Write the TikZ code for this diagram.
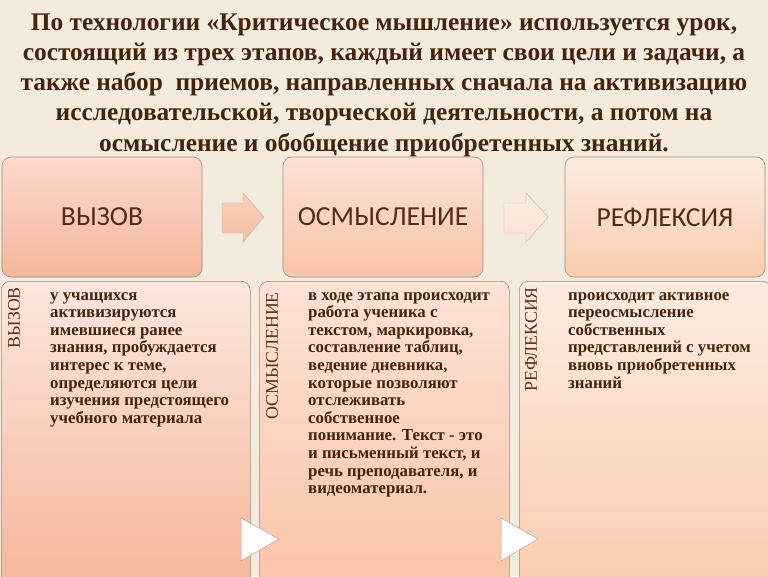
\documentclass[tikz,border=0pt]{standalone}
\usepackage{fontspec}
\setmainfont{Liberation Serif}
\newfontfamily\capfont{Carlito}
\usetikzlibrary{positioning}
\definecolor{paper}{RGB}{242, 235, 222}
\definecolor{ink}{RGB}{68, 36, 12}
\definecolor{labelink}{RGB}{92, 52, 24}
\definecolor{capink}{RGB}{84, 44, 24}
\definecolor{edge}{RGB}{160, 140, 125}
\definecolor{salmonA}{RGB}{252, 218, 206}
\definecolor{salmonB}{RGB}{245, 182, 156}
\definecolor{peachA}{RGB}{253, 226, 214}
\definecolor{peachB}{RGB}{249, 196, 168}
\definecolor{pinkA}{RGB}{251, 230, 222}
\definecolor{pinkB}{RGB}{246, 182, 154}
\definecolor{creamA}{RGB}{252, 236, 226}
\definecolor{creamB}{RGB}{250, 204, 176}

\tikzset{
  stage/.style={draw=edge, line width=0.6, rounded corners=9pt,
    minimum width=200, minimum height=120, inner sep=0,
    font=\capfont\fontsize{27.5}{30}\selectfont, text=capink},
  card/.style={draw=edge, line width=0.6, rounded corners=9pt,
    minimum height=310, inner sep=0, anchor=north west},
  side/.style={rotate=90, anchor=east, inner sep=0,
    font=\fontsize{17.8}{19}\selectfont, text=labelink},
  body/.style={anchor=north west, inner sep=0, align=left,
    font=\bfseries\fontsize{16.8}{17.6}\selectfont, text=ink},
  blockarrow/.style={draw=edge!70, line width=0.4},
  pointer/.style={fill=white, draw=edge!80, line width=0.5}
}

\begin{document}
\begin{tikzpicture}[x=1pt, y=-1pt]

  \fill[paper] (0, 0) rectangle (768, 576);
  \useasboundingbox (0, 0) rectangle (768, 576);
  \clip (0, 0) rectangle (768, 576);

  \node[align=center, inner sep=0, text=ink,
        font=\bfseries\fontsize{25.4}{30.2}\selectfont] (title) at (384, 85)
    {По технологии «Критическое мышление» используется урок,\\
     состоящий из трех этапов, каждый имеет свои цели и задачи, а\\
     также набор\ \ приемов, направленных сначала на активизацию\\
     исследовательской, творческой деятельности, а потом на\\
     осмысление и обобщение приобретенных знаний.};

  % upper row
  \node[stage, top color=salmonA, bottom color=salmonB] (vyzov) at (102, 217) {ВЫЗОВ};
  \node[stage, top color=peachA, bottom color=peachB] (osmysl) at (383, 217) {ОСМЫСЛЕНИЕ};
  \node[stage, top color=creamA, bottom color=creamB] (refl) at (665, 217) {РЕФЛЕКСИЯ};

  \draw[blockarrow, top color=peachB!80, bottom color=salmonB!90]
    (222, 203) -- (243, 203) -- (243, 193) -- (264, 217) -- (243, 242)
    -- (243, 233) -- (222, 233) -- cycle;
  \draw[blockarrow, top color=creamA, bottom color=peachA]
    (504, 203) -- (526, 203) -- (526, 193) -- (548, 217) -- (526, 242)
    -- (526, 233) -- (504, 233) -- cycle;

  % lower row
  \node[card, minimum width=249, top color=pinkA, bottom color=pinkB] (vyzovcard) at (1, 281) {};
  \node[card, minimum width=250, top color=peachA, bottom color=peachB] (osmyslcard) at (259, 281) {};
  \node[card, minimum width=252, top color=creamA, bottom color=creamB] (reflcard) at (519, 281) {};

  \node[side] (vyzovside) at (14, 287) {ВЫЗОВ};
  \node[side] (osmyslside) at (272, 292) {ОСМЫСЛЕНИЕ};
  \node[side] (reflside) at (531, 287) {РЕФЛЕКСИЯ};

  \node[body] (vyzovtext) at (50, 292)
    {у учащихся\\ активизируются\\ имевшиеся ранее\\ знания, пробуждается\\
     интерес к теме,\\ определяются цели\\ изучения предстоящего\\ учебного материала};
  \node[body] (osmysltext) at (308, 292)
    {в ходе этапа происходит\\ работа ученика с\\ текстом, маркировка,\\
     составление таблиц,\\ ведение дневника,\\ которые позволяют\\ отслеживать\\
     собственное\\ понимание. Текст - это\\ и письменный текст, и\\
     речь преподавателя, и\\ видеоматериал.};
  \node[body] (refltext) at (568, 292)
    {происходит активное\\ переосмысление\\ собственных\\ представлений с учетом\\
     вновь приобретенных\\ знаний};

  \draw[pointer] (241, 518) -- (279, 539) -- (241, 561) -- cycle;
  \draw[pointer] (501, 518) -- (538, 539) -- (501, 561) -- cycle;

\end{tikzpicture}
\end{document}
